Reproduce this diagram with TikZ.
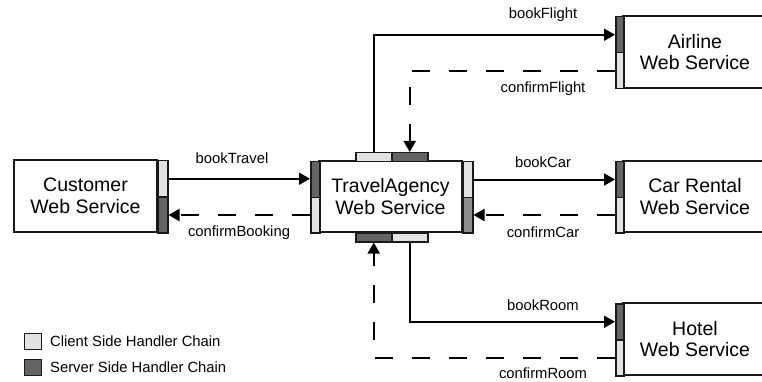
\documentclass[tikz,border=0pt]{standalone}
\usepackage{fontspec}
\setmainfont{Liberation Sans}
\usetikzlibrary{arrows.meta}
\definecolor{clientc}{HTML}{E2E2E2}
\definecolor{serverc}{HTML}{646464}
\definecolor{servermid}{HTML}{8E8E8E}
\definecolor{edgec}{HTML}{1A1A1A}
\tikzset{
  svc/.style={draw=edgec, line width=1.8pt, fill=white, rectangle, inner sep=0pt,
    align=center, font=\fontsize{19.5}{21.5}\selectfont},
  hcl/.style={draw=edgec, line width=1.5pt, fill=clientc, rectangle, inner sep=0pt},
  hsv/.style={draw=edgec, line width=1.5pt, fill=serverc, rectangle, inner sep=0pt},
  hsm/.style={draw=edgec, line width=1.5pt, fill=servermid, rectangle, inner sep=0pt},
  msg/.style={line width=2pt, draw=black, -{Triangle[length=11pt,width=12pt]}},
  reply/.style={msg, dash pattern=on 18pt off 19pt},
  lbl/.style={font=\fontsize{14.8}{17}\selectfont, inner sep=0pt},
  leg/.style={font=\fontsize{14.8}{17}\selectfont, inner sep=0pt, anchor=west},
}
\begin{document}
\begin{tikzpicture}[x=1pt,y=-1pt]
\useasboundingbox (0,0) rectangle (762,382);
% Customer
\node[svc, minimum width=143pt, minimum height=72pt] (cust) at (85.5,196) {Customer\\Web Service};
\node[hcl, minimum width=10pt, minimum height=36pt, anchor=north west] (custC) at (157,160) {};
\node[hsv, minimum width=10pt, minimum height=36pt, anchor=north west] (custS) at (157,196) {};
% TravelAgency
\node[svc, minimum width=143pt, minimum height=71pt] (ta) at (390.5,196.5) {TravelAgency\\Web Service};
\node[hsv, minimum width=9pt, minimum height=35.5pt, anchor=north west] (taLS) at (310,161) {};
\node[hcl, minimum width=9pt, minimum height=35.5pt, anchor=north west] (taLC) at (310,196.5) {};
\node[hcl, minimum width=10pt, minimum height=35.5pt, anchor=north west] (taRC) at (462,161) {};
\node[hsm, minimum width=10pt, minimum height=35.5pt, anchor=north west] (taRS) at (462,196.5) {};
\node[hcl, minimum width=36pt, minimum height=9pt, anchor=north west] (taTC) at (355,152) {};
\node[hsv, minimum width=36pt, minimum height=9pt, anchor=north west] (taTS) at (391,152) {};
\node[hsv, minimum width=36pt, minimum height=9pt, anchor=north west] (taBS) at (355,232) {};
\node[hcl, minimum width=36pt, minimum height=9pt, anchor=north west] (taBC) at (391,232) {};
% Airline
\node[svc, minimum width=144pt, minimum height=72pt] (air) at (695,52) {Airline\\Web Service};
\node[hsv, minimum width=8pt, minimum height=36pt, anchor=north west] (airS) at (615,16) {};
\node[hcl, minimum width=8pt, minimum height=36pt, anchor=north west] (airC) at (615,52) {};
% Car Rental
\node[svc, minimum width=144pt, minimum height=71pt] (car) at (695,196.5) {Car Rental\\Web Service};
\node[hsv, minimum width=8pt, minimum height=35.5pt, anchor=north west] (carS) at (615,161) {};
\node[hcl, minimum width=8pt, minimum height=35.5pt, anchor=north west] (carC) at (615,196.5) {};
% Hotel
\node[svc, minimum width=144pt, minimum height=72pt] (hot) at (695,339) {Hotel\\Web Service};
\node[hsv, minimum width=8pt, minimum height=36pt, anchor=north west] (hotS) at (615,303) {};
\node[hcl, minimum width=8pt, minimum height=36pt, anchor=north west] (hotC) at (615,339) {};
% Connectors
\draw[msg] (custC.east) -- (taLS.west |- custC.east);
\draw[reply] (taLC.west) -- (custS.east |- taLC.west);
\draw[msg] (taRC.east) -- (carS.west |- taRC.east);
\draw[reply] (carC.west) -- (taRS.east |- carC.west);
\draw[msg] (taTC.north) |- (airS.west);
\draw[reply] (airC.west) -| (taTS.north);
\draw[msg] (taBC.south) |- (hotS.west);
\draw[reply] (hotC.west) -| (taBS.south);
% Labels
\node[lbl] (lbT) at (232,158) {bookTravel};
\node[lbl] (lbB) at (239,233) {confirmBooking};
\node[lbl] (lbF) at (543,15) {bookFlight};
\node[lbl] (lbCF) at (543,89) {confirmFlight};
\node[lbl] (lbC) at (543,162) {bookCar};
\node[lbl] (lbCC) at (543,232) {confirmCar};
\node[lbl] (lbR) at (543,305) {bookRoom};
\node[lbl] (lbCR) at (543,373.5) {confirmRoom};
% Legend
\node[hcl, line width=0.8pt, minimum width=17pt, minimum height=16pt, anchor=north west] (legC) at (24,333) {};
\node[hsv, line width=0.8pt, minimum width=17pt, minimum height=16pt, anchor=north west] (legS) at (24,359) {};
\node[leg] (legCt) at (50,341) {Client Side Handler Chain};
\node[leg] (legSt) at (50,367) {Server Side Handler Chain};
\end{tikzpicture}
\end{document}
